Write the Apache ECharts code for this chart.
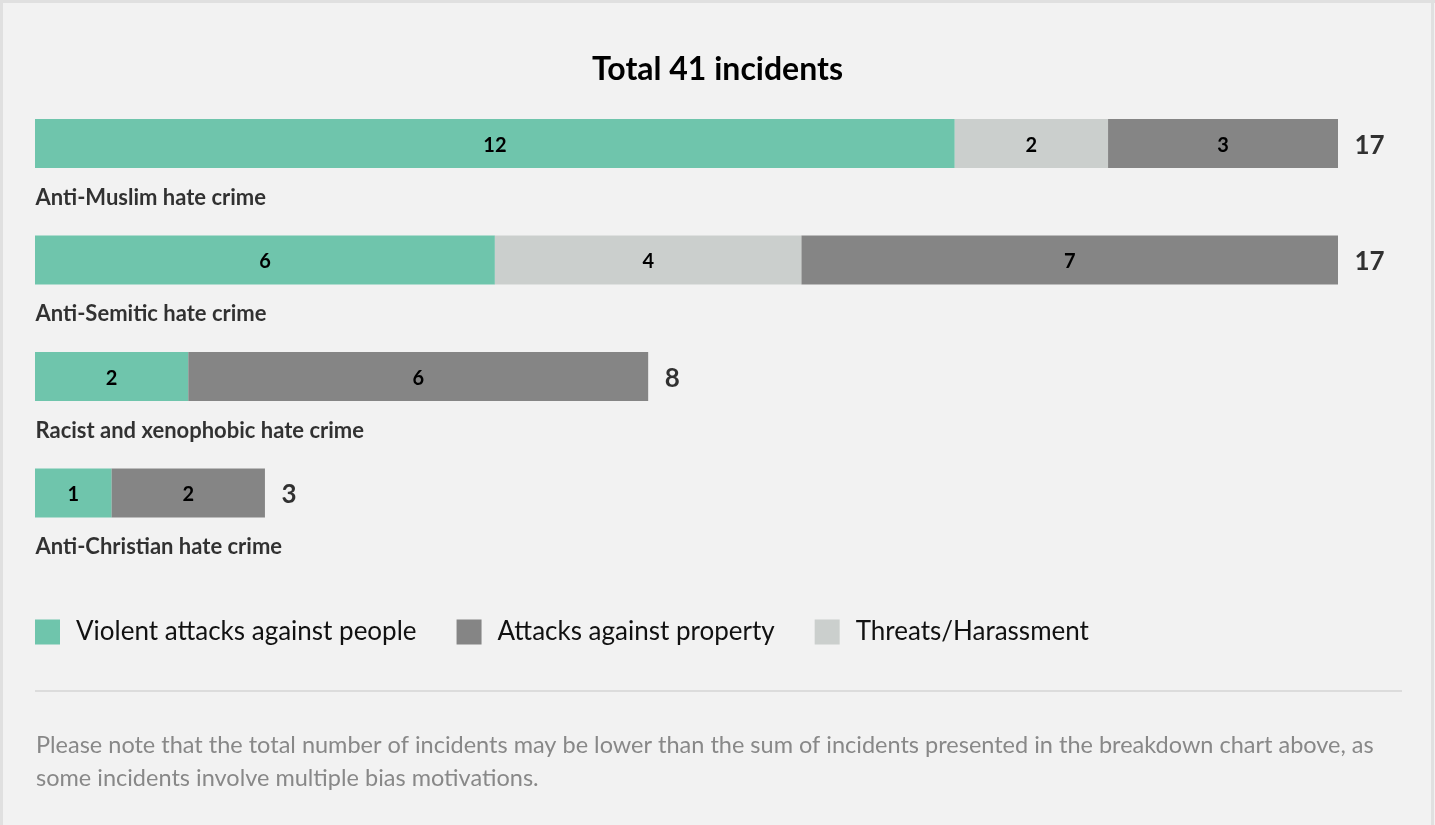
<!DOCTYPE html>
<html>
<head>
<meta charset="utf-8">
<script src="https://cdn.jsdelivr.net/npm/echarts@6/dist/echarts.min.js"></script>
<style>
html,body{margin:0;padding:0;background:#f2f2f2;}
#chart{width:1435px;height:825px;}
</style>
</head>
<body>
<div id="chart"></div>
<script>
const categories = ['Anti-Muslim hate crime','Anti-Semitic hate crime','Racist and xenophobic hate crime','Anti-Christian hate crime'];
const violent = [12, 6, 2, 1];
const threats = [2, 4, 0, 0];
const property = [3, 7, 6, 2];
const totals = [17, 17, 8, 3];
const titleText = 'Total 41 incidents';
const noteText = 'Please note that the total number of incidents may be lower than the sum of incidents presented in the breakdown chart above, as\nsome incidents involve multiple bias motivations.';

const FONT = 'Lato';
const chart = echarts.init(document.getElementById('chart'));

const inBarLabel = {
  show: true, position: 'inside', offset: [0, 2], color: '#000', fontFamily: FONT, fontWeight: 'bold', fontSize: 20,
  formatter: p => (p.value ? String(p.value) : '')
};

chart.setOption({
  backgroundColor: '#f2f2f2',
  animation: false,
  title: {
    text: titleText, left: 'center', top: 49,
    textStyle: { fontFamily: FONT, fontWeight: 'bold', fontSize: 32, color: '#000' }
  },
  grid: { left: 35, right: 97, top: 85.25, height: 466, containLabel: false },
  xAxis: { type: 'value', min: 0, max: 17, show: false },
  yAxis: { type: 'category', data: categories, inverse: true, show: false },
  legend: {
    left: 35, top: 619, padding: 0, itemWidth: 25, itemHeight: 25, itemGap: 40, icon: 'rect',
    data: ['Violent attacks against people', 'Attacks against property', 'Threats/Harassment'],
    textStyle: { fontFamily: FONT, fontSize: 26, color: '#111', padding: [0, 0, 0, 11] },
    selectedMode: false
  },
  series: [
    { name: 'Violent attacks against people', type: 'bar', stack: 'a', barWidth: 49, data: violent,
      itemStyle: { color: '#6fc5ac' }, label: inBarLabel, silent: true },
    { name: 'Threats/Harassment', type: 'bar', stack: 'a', barWidth: 49, data: threats,
      itemStyle: { color: '#cbcfcd' }, label: inBarLabel, silent: true },
    { name: 'Attacks against property', type: 'bar', stack: 'a', barWidth: 49, data: property,
      itemStyle: { color: '#858585' }, label: inBarLabel, silent: true },
    { name: 'totals', type: 'scatter', symbolSize: 1, itemStyle: { color: 'rgba(0,0,0,0)' }, silent: true,
      data: totals.map((t, i) => [t, categories[i]]),
      label: { show: true, position: 'right', distance: 16, offset: [0, 2], formatter: p => String(p.value[0]),
        fontFamily: FONT, fontWeight: 'bold', fontSize: 26, color: '#000' } },
    { name: 'cats', type: 'scatter', symbolSize: 1, itemStyle: { color: 'rgba(0,0,0,0)' }, silent: true,
      data: categories.map(c => [0, c]),
      label: { show: true, position: 'right', distance: 0, offset: [0, 54], formatter: p => p.value[1],
        fontFamily: FONT, fontWeight: 'bold', fontSize: 22, color: '#000' } }
  ],
  graphic: [
    { type: 'rect', shape: { x: 0, y: 0, width: 1435, height: 3 }, style: { fill: '#e0e0e0' }, silent: true },
    { type: 'rect', shape: { x: 0, y: 0, width: 3, height: 825 }, style: { fill: '#e0e0e0' }, silent: true },
    { type: 'rect', shape: { x: 1431, y: 0, width: 3, height: 825 }, style: { fill: '#e0e0e0' }, silent: true },
    { type: 'rect', shape: { x: 35, y: 690, width: 1367, height: 2 }, style: { fill: '#dcdcdc' }, silent: true },
    { type: 'text', left: 36, top: 728.5, silent: true,
      style: { text: noteText, fontFamily: FONT, fontSize: 23.5, lineHeight: 33, fill: '#888888' } }
  ]
});
</script>
</body>
</html>
